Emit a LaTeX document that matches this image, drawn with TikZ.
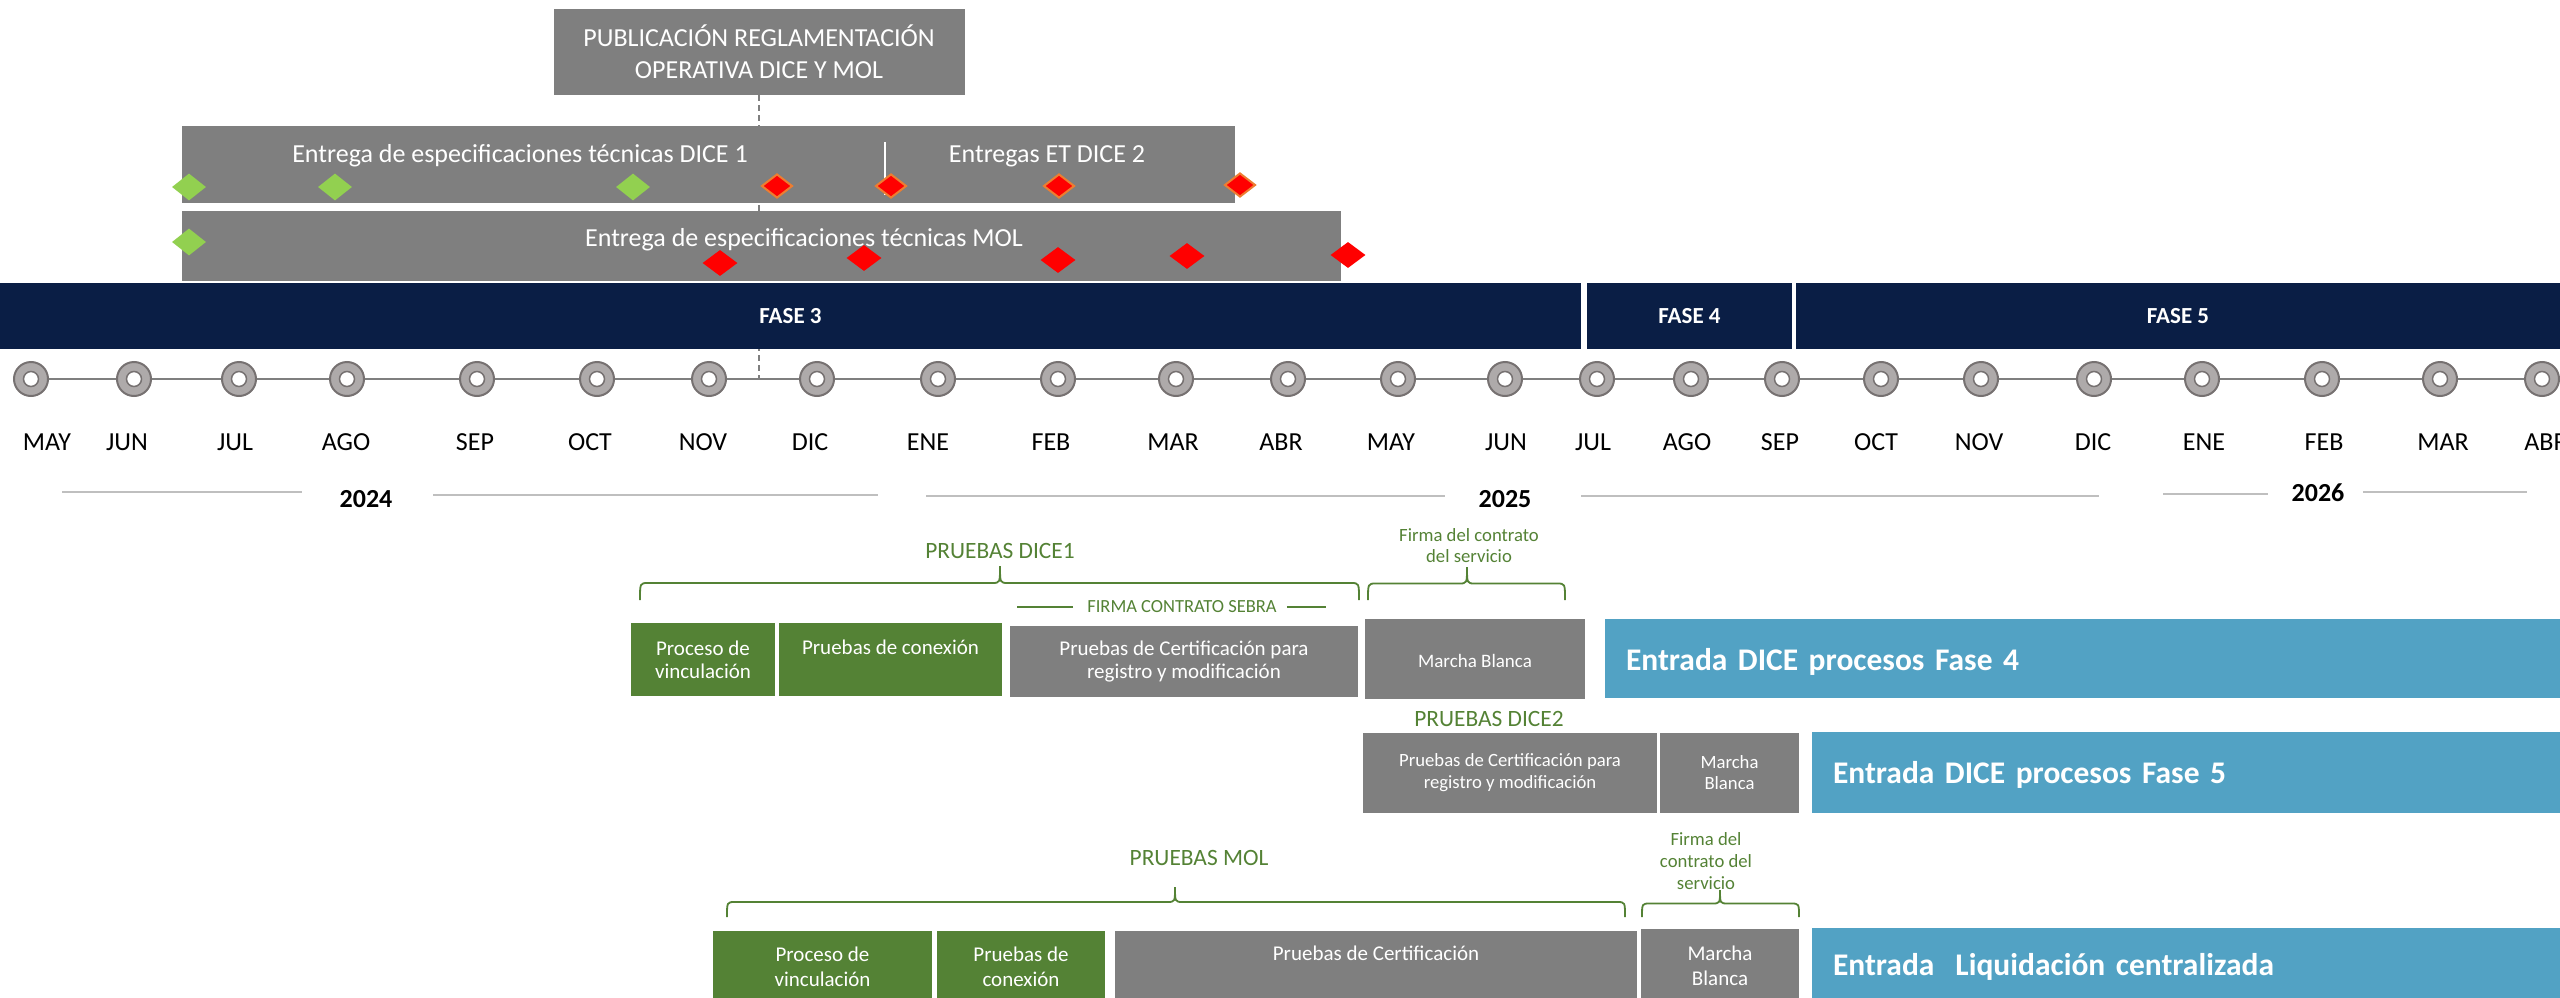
\documentclass[tikz,border=0pt]{standalone}
\usepackage{fontspec}
\setmainfont{Carlito}
\usetikzlibrary{shapes.geometric,backgrounds}

\definecolor{navy}{RGB}{10,30,69}
\definecolor{boxgray}{RGB}{127,127,127}
\definecolor{okgreen}{RGB}{84,130,53}
\definecolor{lightgreen}{RGB}{146,208,80}
\definecolor{mileorange}{RGB}{237,125,49}
\definecolor{accblue}{RGB}{82,162,196}
\definecolor{ringgray}{RGB}{174,170,170}
\definecolor{ringedge}{RGB}{118,113,113}
\definecolor{yeargray}{RGB}{191,191,191}

% brace: left x, right x, tip x, base y, height
\newcommand{\pbrace}[5]{%
  \draw[brc] (#1,#4) .. controls (#1,{#4-#5/2}) .. ({#1+8},{#4-#5/2})
    -- ({#3-8},{#4-#5/2}) .. controls (#3,{#4-#5/2}) .. (#3,{#4-#5})
    .. controls (#3,{#4-#5/2}) .. ({#3+8},{#4-#5/2})
    -- ({#2-8},{#4-#5/2}) .. controls (#2,{#4-#5/2}) .. (#2,#4);}

\tikzset{
  topbar/.style={fill=boxgray, inner sep=0},
  bartext/.style={text=white, inner sep=0, anchor=base, font=\fontsize{26}{32}\selectfont},
  phasebar/.style={fill=navy, text=white, inner sep=0, minimum height=66,
    font=\fontsize{23}{28}\selectfont\bfseries},
  mgreen/.style={diamond, fill=lightgreen, inner sep=0, minimum width=34, minimum height=27},
  mred/.style={diamond, fill=red, inner sep=0, minimum width=35, minimum height=26},
  mredo/.style={diamond, fill=red, draw=mileorange, line width=2, inner sep=0,
    minimum width=31, minimum height=24},
  monthdot/.style={circle, fill=ringgray, draw=ringedge, line width=2, minimum size=34, inner sep=0,
    path picture={\draw[ringedge, line width=1.5, fill=white]
      (path picture bounding box.center) circle (7.5pt);}},
  tlline/.style={draw=boxgray, line width=2},
  monthlbl/.style={inner sep=0, font=\fontsize{26}{30}\selectfont},
  yearlbl/.style={inner sep=0, font=\fontsize{26}{30}\selectfont\bfseries},
  yearline/.style={draw=yeargray, line width=2.5},
  grtext/.style={text=okgreen, inner sep=0, align=center},
  brc/.style={draw=okgreen, line width=1.8},
  grline/.style={draw=okgreen, line width=1.5},
  greenbox/.style={fill=okgreen, text=white, inner sep=0, align=center},
  graybox/.style={fill=boxgray, text=white, inner sep=0, align=center},
  bluebox/.style={fill=accblue, text=white, align=left, inner ysep=0, inner xsep=21,
    font=\fontsize{31.5}{36}\selectfont\bfseries},
  dashline/.style={draw=boxgray, line width=1.5, dash pattern=on 6pt off 4pt},
}

\begin{document}
\begin{tikzpicture}[x=1pt,y=-1pt]
\useasboundingbox (0,0) rectangle (2560,998);

% Publicacion reglamentacion
\node[graybox, minimum width=411, minimum height=86, font=\fontsize{26}{32}\selectfont]
  (pub) at (759,52) {PUBLICACIÓN REGLAMENTACIÓN\\OPERATIVA DICE Y MOL};

% Especificaciones tecnicas DICE
\node[topbar, minimum width=1053, minimum height=77] (etdice) at (708.5,164.5) {};
\node[bartext] (etdice1) at (520,162) {Entrega de especificaciones técnicas DICE 1};
\node[bartext] (etdice2) at (1047,162) {Entregas ET DICE 2};
\draw[white, line width=1.5] (885,142) -- (885,195);
\node[mgreen] (dg1) at (189,187) {};
\node[mgreen] (dg2) at (335,187) {};
\node[mgreen] (dg3) at (633,187) {};
\node[mredo] (dr1) at (777,186) {};
\node[mredo] (dr2) at (891,186) {};
\node[mredo] (dr3) at (1059,186) {};
\node[mredo] (dr4) at (1240,185) {};

% Especificaciones tecnicas MOL
\node[topbar, minimum width=1159, minimum height=70] (etmol) at (761.5,246) {};
\node[bartext] (etmol1) at (804,246) {Entrega de especificaciones técnicas MOL};
\node[mgreen] (mg1) at (189,242) {};
\node[mred] (mr1) at (720,263) {};
\node[mred] (mr2) at (864,258) {};
\node[mred] (mr3) at (1058,260) {};
\node[mred] (mr4) at (1187,256) {};
\node[mred] (mr5) at (1348,255) {};

% Fases
\node[phasebar, minimum width=1581] (f3) at (790.5,316) {FASE 3};
\node[phasebar, minimum width=205] (f4) at (1689.5,316) {FASE 4};
\node[phasebar, minimum width=764] (f5) at (2178,316) {FASE 5};

% Linea de tiempo
\foreach \cx/\lx/\mon [count=\i] in {31/47/MAY, 134/127/JUN, 239/235/JUL, 347/346/AGO,
    477/475/SEP, 597/590/OCT, 709/703/NOV, 817/810/DIC, 938/928/ENE, 1058/1051/FEB,
    1176/1173/MAR, 1288/1281/ABR, 1398/1391/MAY, 1505/1506/JUN, 1597/1593/JUL,
    1691/1687/AGO, 1782/1780/SEP, 1881/1876/OCT, 1981/1979/NOV, 2094/2093/DIC,
    2202/2204/ENE, 2322/2324/FEB, 2440/2443/MAR, 2542/2546/ABR} {
  \node[monthdot] (m\i) at (\cx,379) {};
  \node[monthlbl] (l\i) at (\lx,442) {\mon};
}

% Años
\node[yearlbl] (y24) at (366,499) {2024};
\node[yearlbl] (y25) at (1505,499) {2025};
\node[yearlbl] (y26) at (2318,493) {2026};
\draw[yearline] (62,492) -- (302,492);
\draw[yearline] (433,495) -- (878,495);
\draw[yearline] (926,496) -- (1445,496);
\draw[yearline] (1581,496) -- (2099,496);
\draw[yearline] (2163,494) -- (2268,494);
\draw[yearline] (2363,492) -- (2527,492);

% Pruebas DICE1
\node[grtext, font=\fontsize{23.4}{28}\selectfont] (pd1) at (1000,551) {PRUEBAS DICE1};
\pbrace{640}{1359}{1000}{600}{34}
\node[grtext, font=\fontsize{18.5}{22}\selectfont] (sebra) at (1182,607) {FIRMA CONTRATO SEBRA};
\draw[grline] ([xshift=-14pt]sebra.west) -- ++(-56,0);
\draw[grline] ([xshift=10pt]sebra.east) -- ++(39,0);
\node[grtext, font=\fontsize{18.7}{21}\selectfont] (firma1) at (1469,546) {Firma del contrato\\del servicio};
\pbrace{1368}{1565}{1467}{600}{33}

\node[greenbox, minimum width=144, minimum height=73, font=\fontsize{21}{23}\selectfont]
  (vinc1) at (703,659.5) {Proceso de\\vinculación};
\node[greenbox, minimum width=223, font=\fontsize{21}{23}\selectfont, text height=31pt, text depth=42pt]
  (con1) at (890.5,659.5) {Pruebas de conexión};
\node[graybox, minimum width=348, minimum height=71, font=\fontsize{21}{23}\selectfont]
  (cert1) at (1184,661.5) {Pruebas de Certificación para\\registro y modificación};
\node[graybox, minimum width=220, font=\fontsize{19}{22}\selectfont, text height=48pt, text depth=32pt]
  (mb1) at (1475,659) {Marcha Blanca};
\node[bluebox, text width=913, text height=51pt, text depth=28pt]
  (fase4) at (2082.5,658.5) {Entrada DICE procesos Fase 4};

% Pruebas DICE2
\node[grtext, font=\fontsize{23.4}{28}\selectfont] (pd2) at (1489,719) {PRUEBAS DICE2};
\node[graybox, minimum width=294, minimum height=80, font=\fontsize{18.7}{22}\selectfont]
  (cert2) at (1510,773) {Pruebas de Certificación para\\registro y modificación};
\node[graybox, minimum width=139, minimum height=80, font=\fontsize{18.7}{21}\selectfont]
  (mb2) at (1729.5,773) {Marcha\\Blanca};
\node[bluebox, text width=706, text height=51pt, text depth=30pt]
  (fase5) at (2186,772.5) {Entrada DICE procesos Fase 5};

% Pruebas MOL
\node[grtext, font=\fontsize{23.4}{28}\selectfont] (pmol) at (1199,858) {PRUEBAS MOL};
\pbrace{727}{1625}{1175}{917}{30}
\node[grtext, font=\fontsize{18.7}{22}\selectfont] (firma2) at (1706,861) {Firma del\\contrato del\\servicio};
\pbrace{1642}{1799}{1720}{917}{27}

\node[greenbox, minimum width=219, minimum height=71, font=\fontsize{21}{25}\selectfont]
  (vinc3) at (822.5,966.5) {Proceso de\\vinculación};
\node[greenbox, minimum width=168, minimum height=71, font=\fontsize{21}{25}\selectfont]
  (con3) at (1021,966.5) {Pruebas de\\conexión};
\node[graybox, minimum width=522, font=\fontsize{21}{25}\selectfont, text height=29pt, text depth=42pt]
  (cert3) at (1376,966.5) {Pruebas de Certificación};
\node[graybox, minimum width=158, minimum height=73, font=\fontsize{21}{25}\selectfont]
  (mb3) at (1720,965.5) {Marcha\\Blanca};
\node[bluebox, text width=706, text height=47pt, text depth=27pt]
  (liq) at (2186,965) {Entrada\ \ Liquidación centralizada};

% detras de todo
\begin{scope}[on background layer]
  \draw[tlline] (m1.center) -- (m24.center);
  \draw[dashline] (pub.south) -- (pub.south |- m8.center);
\end{scope}
\end{tikzpicture}
\end{document}
